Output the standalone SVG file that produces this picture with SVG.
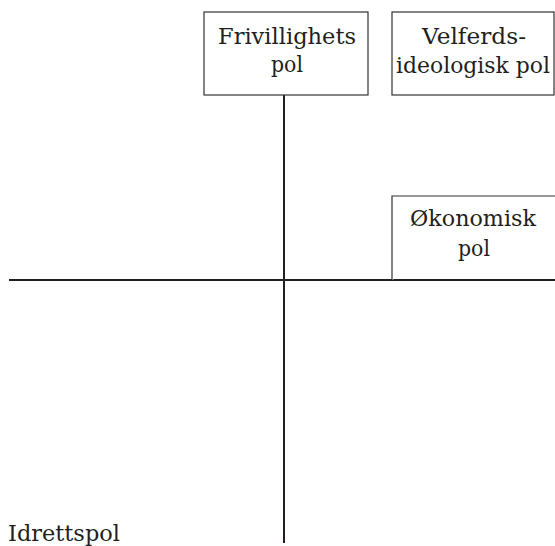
<svg xmlns="http://www.w3.org/2000/svg" width="555" height="546" viewBox="0 0 555 546">
<style>
.box{fill:#fff;stroke:#333;stroke-width:1.2}
.axis{stroke:#231f20;stroke-width:2;fill:none}
.t{font-family:'DejaVu Serif','Liberation Serif',serif;font-size:23px;fill:#231f20;text-anchor:middle}
</style>
<rect width="555" height="546" fill="#fff"/>
<g id="connectors">
<line class="axis" x1="284" y1="95" x2="284" y2="543"/>
<line class="axis" x1="9" y1="280" x2="555" y2="280"/>
</g>
<g id="frivillighets">
<rect class="box" x="204" y="12" width="164" height="83"/>
<text class="t" x="287" y="44" textLength="138" lengthAdjust="spacingAndGlyphs">Frivillighets</text>
<text class="t" x="287" y="72" textLength="32" lengthAdjust="spacingAndGlyphs">pol</text>
</g>
<g id="velferds">
<rect class="box" x="392" y="12" width="162" height="83"/>
<text class="t" x="474" y="44" textLength="104" lengthAdjust="spacingAndGlyphs">Velferds-</text>
<text class="t" x="473" y="73" textLength="154" lengthAdjust="spacingAndGlyphs">ideologisk pol</text>
</g>
<g id="okonomisk">
<path class="box" d="M392,280 V196 H556"/>
<text class="t" x="473" y="226" textLength="126" lengthAdjust="spacingAndGlyphs">Økonomisk</text>
<text class="t" x="474" y="256" textLength="32" lengthAdjust="spacingAndGlyphs">pol</text>
</g>
<g id="idrettspol">
<text class="t" x="8" y="541" style="text-anchor:start" textLength="112" lengthAdjust="spacingAndGlyphs">Idrettspol</text>
</g>
</svg>
